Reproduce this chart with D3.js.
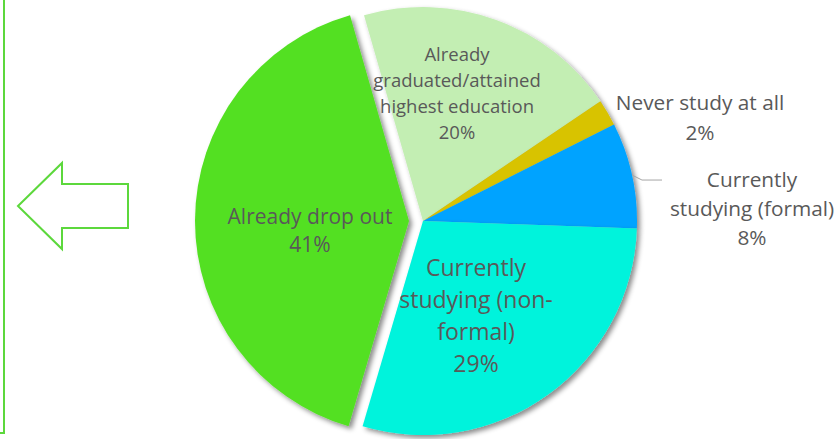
<!DOCTYPE html>
<html>
<head>
<meta charset="utf-8">
<script src="https://cdn.jsdelivr.net/npm/d3@7"></script>
<style>
  html, body { margin: 0; padding: 0; background: #fff; }
  svg { display: block; }
  .lbl { font-family: "Open Sans", Lato, sans-serif; fill: #595959; }
</style>
</head>
<body>
<svg id="chart" width="834" height="439"></svg>
<script>
// data
const categories = [
  "Already graduated/attained highest education",
  "Never study at all",
  "Currently studying (formal)",
  "Currently studying (non-formal)",
  "Already drop out"
];
const shares = [20, 2, 8, 29, 41];
const colors = ["#c3eeb3", "#d8c300", "#00a3ff", "#00f3dc", "#53e023"];
const labelLines = [
  ["Already", "graduated/attained", "highest education", "20%"],
  ["Never study at all", "2%"],
  ["Currently", "studying (formal)", "8%"],
  ["Currently", "studying (non-", "formal)", "29%"],
  ["Already drop out", "41%"]
];

// layout
const width = 834;
const height = 439;
const cx = 423;
const cy = 221;
const radius = 214;
const startDeg = -16;
const explode = [0, 0, 0, 0, 14];
// label centre (first line) relative to pie centre, font size, line height
const labelLayout = [
  { dx: 34, dy: -166, size: 18.5, lh: 26 },
  { dx: 277, dy: -118, size: 20.8, lh: 30 },
  { dx: 329, dy: -41, size: 20.8, lh: 29 },
  { dx: 53, dy: 47, size: 23, lh: 32 },
  { dx: -113, dy: -4, size: 21, lh: 28 }
];

const svg = d3.select("#chart");

const defs = svg.append("defs");
const shadow = defs.append("filter")
  .attr("id", "shadow")
  .attr("x", "-10%").attr("y", "-10%")
  .attr("width", "130%").attr("height", "130%");
shadow.append("feDropShadow")
  .attr("dx", 3).attr("dy", 3)
  .attr("stdDeviation", 2.5)
  .attr("flood-color", "#000")
  .attr("flood-opacity", 0.45);

// left frame line and arrow
const green = "#5cd83c";
svg.append("path")
  .attr("d", "M0,433 H4 V0")
  .attr("fill", "none")
  .attr("stroke", green)
  .attr("stroke-width", 2);

svg.append("path")
  .attr("d", "M18,206 L62,163 V184 H128 V228 H62 V249 Z")
  .attr("fill", "#fff")
  .attr("stroke", green)
  .attr("stroke-width", 2);

// pie
const start = startDeg * Math.PI / 180;
const pie = d3.pie().sort(null).value(d => d)
  .startAngle(start).endAngle(start + 2 * Math.PI);
const arcs = pie(shares);
const arc = d3.arc().innerRadius(0).outerRadius(radius);

const g = svg.append("g").attr("transform", `translate(${cx},${cy})`);

g.selectAll("path.slice")
  .data(arcs)
  .enter()
  .append("path")
  .attr("class", "slice")
  .attr("d", arc)
  .attr("fill", (d, i) => colors[i])
  .attr("filter", "url(#shadow)")
  .attr("transform", (d, i) => {
    const mid = (d.startAngle + d.endAngle) / 2;
    return `translate(${Math.sin(mid) * explode[i]},${-Math.cos(mid) * explode[i]})`;
  });

// leader line for the formal slice
const formal = arcs[2];
const fMid = (formal.startAngle + formal.endAngle) / 2;
const p0 = [Math.sin(fMid) * radius, -Math.cos(fMid) * radius];
g.append("path")
  .attr("d", `M${p0[0]},${p0[1]} L${p0[0] + 10},${p0[1] + 5} H${p0[0] + 30}`)
  .attr("fill", "none")
  .attr("stroke", "#a6a6a6")
  .attr("stroke-width", 1);

// labels
labelLines.forEach((lines, i) => {
  const L = labelLayout[i];
  const t = g.append("text")
    .attr("class", "lbl")
    .attr("text-anchor", "middle")
    .attr("font-size", L.size)
    .attr("transform", `translate(${L.dx},${L.dy})`);
  lines.forEach((s, j) => {
    t.append("tspan")
      .attr("x", 0)
      .attr("y", j * L.lh)
      .attr("dy", "0.35em")
      .text(s);
  });
});
</script>
</body>
</html>
